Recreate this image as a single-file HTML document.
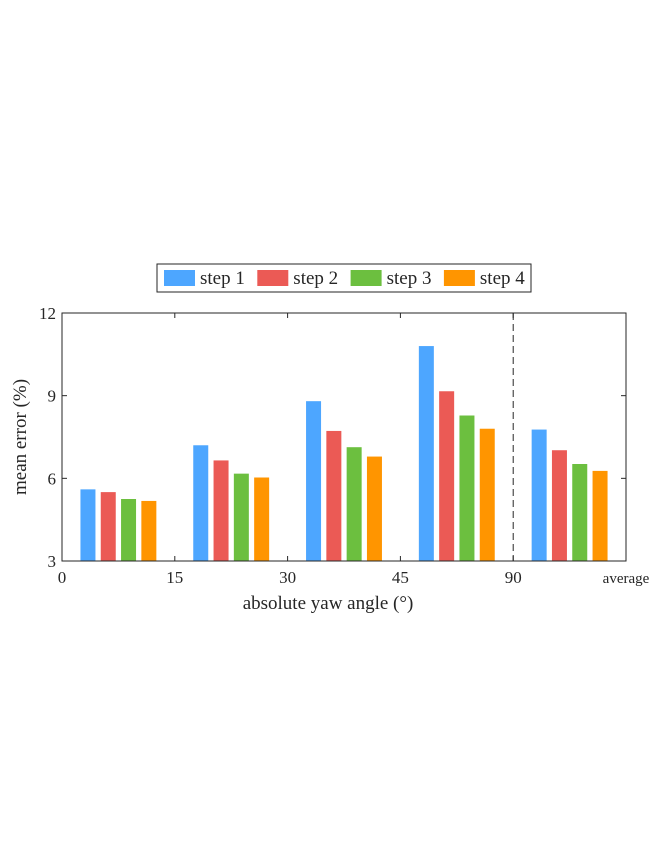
<!DOCTYPE html>
<html><head><meta charset="utf-8"><style>
body{margin:0;background:#fff}
svg text{font-family:"Liberation Serif",serif;fill:#262626}
</style></head><body>
<svg id="chart" width="663" height="855" xmlns="http://www.w3.org/2000/svg">
<rect width="663" height="855" fill="#fff"/>
<g id="bars"></g>
<g id="axes"></g>
<g id="legend"></g>
</svg>
<script>
const categories = ["0-15","15-30","30-45","45-90","average"];
const xTickLabels = ["0","15","30","45","90","average"];
const yTicks = [3,6,9,12];
const seriesNames = ["step 1","step 2","step 3","step 4"];
const step1 = [5.6,7.2,8.8,10.8,7.77];
const step2 = [5.5,6.65,7.72,9.16,7.02];
const step3 = [5.25,6.17,7.13,8.28,6.52];
const step4 = [5.18,6.03,6.79,7.8,6.27];
const colors = ["#4da6ff","#eb5a55","#6cbf3f","#ff9500"];
const series = [step1,step2,step3,step4];

const X0=62, X1=626, Y0=561, Y1=313, YMIN=3, YMAX=12;
const ns="http://www.w3.org/2000/svg";
const catW=(X1-X0)/categories.length;
const y=v=>Y0-(v-YMIN)/(YMAX-YMIN)*(Y0-Y1);
const xc=i=>X0+catW*(i+0.5);
function mk(tag,attrs,parent){const e=document.createElementNS(ns,tag);for(const k in attrs)e.setAttribute(k,attrs[k]);parent.appendChild(e);return e;}
const bars=document.getElementById('bars'),axes=document.getElementById('axes'),legend=document.getElementById('legend');
const pitch=20.3,bw=15;
series.forEach((s,si)=>{s.forEach((v,ci)=>{
  const cx=xc(ci)+(si-1.5)*pitch;
  const r=mk('rect',{x:cx-bw/2,y:y(v),width:bw,height:Y0-y(v),fill:colors[si]},bars);
  
  
});});
// frame
const fr=mk('rect',{x:X0,y:Y1,width:X1-X0,height:Y0-Y1,fill:'none',stroke:'#262626','stroke-width':1},axes);


// dashed separator
const dl=mk('line',{x1:X0+catW*4,x2:X0+catW*4,y1:Y1,y2:Y0,stroke:'#262626','stroke-dasharray':'7,4'},axes);


// x ticks
xTickLabels.forEach((t,i)=>{
  const x=X0+catW*i;
  mk('line',{x1:x,x2:x,y1:Y0,y2:Y0-5,stroke:'#262626'},axes);
  mk('line',{x1:x,x2:x,y1:Y1,y2:Y1+5,stroke:'#262626'},axes);
  const tx=mk('text',{x:x,y:Y0+22,'text-anchor':'middle','font-size':i==5?15:17},axes);
  tx.textContent=t;
  
  
});
yTicks.forEach(v=>{
  mk('line',{x1:X0,x2:X0+5,y1:y(v),y2:y(v),stroke:'#262626'},axes);
  mk('line',{x1:X1,x2:X1-5,y1:y(v),y2:y(v),stroke:'#262626'},axes);
  const tx=mk('text',{x:X0-6,y:y(v)+6,'text-anchor':'end','font-size':17},axes);
  tx.textContent=v;
  
  
});
const xt=mk('text',{x:(X0+X1)/2-16,y:609,'text-anchor':'middle','font-size':19},axes);
xt.textContent='absolute yaw angle (°)';


const yt=mk('text',{x:0,y:0,'text-anchor':'middle','font-size':19,transform:'translate(26,'+((Y0+Y1)/2)+') rotate(-90)'},axes);
yt.textContent='mean error (%)';


// legend
const lb=mk('rect',{x:157,y:264,width:374,height:28,fill:'#fff',stroke:'#262626'},legend);


seriesNames.forEach((n,i)=>{
  const lx=164+i*93.3;
  const g=mk('g',{},legend);
  
  
  mk('rect',{x:lx,y:270,width:31,height:16,fill:colors[i]},g);
  const t=mk('text',{x:lx+36,y:284,'font-size':19},g);
  t.textContent=n;
});
</script>
</body></html>
